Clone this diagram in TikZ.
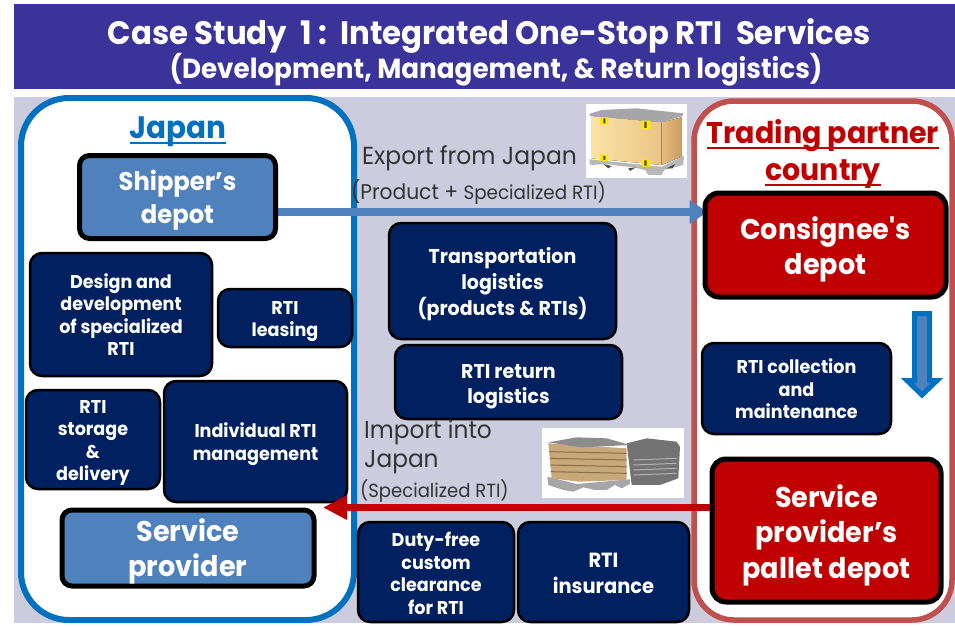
\documentclass[tikz,border=0pt]{standalone}
\usepackage{fontspec}
\setmainfont[FakeStretch=0.95,Ligatures=TeXOff]{Poppins}
\usetikzlibrary{arrows.meta}
\definecolor{banner}{HTML}{3A3399}
\definecolor{lav}{HTML}{CCCCDE}
\definecolor{navy}{HTML}{002060}
\definecolor{lblue}{HTML}{4F81BD}
\definecolor{dred}{HTML}{C00000}
\definecolor{jblue}{HTML}{0070C0}
\definecolor{tred}{HTML}{C0504D}
\definecolor{boxa}{HTML}{FDE2A6}
\definecolor{boxb}{HTML}{EAC488}
\definecolor{boxc}{HTML}{E8BC7C}
\definecolor{boxd}{HTML}{C99C60}
\definecolor{card}{HTML}{C8A878}
\definecolor{cardl}{HTML}{8A6E48}
\pgfdeclarelayer{bg}\pgfdeclarelayer{mid}
\pgfsetlayers{bg,mid,main}
\tikzset{x=1pt,y=-1pt,
 bx/.style={draw=black,line width=2.5pt,rounded corners=12pt,fill=navy,text=white,inner sep=0pt,font=\fontsize{18.5}{22.5}\selectfont\bfseries},
 sh/.style={draw=black,line width=5pt,rounded corners=10pt,fill=lblue,text=white,inner sep=0pt,font=\fontsize{25.5}{33}\selectfont\bfseries},
 rd/.style={draw=black,line width=5pt,rounded corners=14pt,fill=dred,text=white,inner sep=0pt,font=\fontsize{28.5}{35.5}\selectfont\bfseries},
 lbl/.style={text=black!80,anchor=west,inner sep=0pt,align=left},
 flow/.style={line width=7.5pt},
}
\newlength\ulw
\newcommand{\ulx}[1]{\settowidth\ulw{#1}\rlap{\rule[-5pt]{\ulw}{2pt}}#1}
% style, drop, x1, y1, x2, y2, name, text
\newcommand{\bxat}[8]{\node[#1,minimum width=#5pt-#3pt,minimum height=#6pt-#4pt] (#7) at ({(#3+#5)/2},{(#4+#6)/2}) {\raisebox{-#2pt}[\height][\depth]{\begin{tabular}{@{}c@{}}#8\end{tabular}}}}
\begin{document}
\begin{tikzpicture}
\useasboundingbox (0,0) rectangle (955,626);
\begin{pgfonlayer}{bg}
\fill[white] (0,0) rectangle (955,626);
\fill[banner] (14,4) rectangle (955,89);
\fill[lav] (14,97) rectangle (955,623);
\draw[draw=jblue,line width=6pt,fill=white,rounded corners=48pt] (21,98) rectangle (354,620);
\draw[draw=tred,line width=5.5pt,fill=white,rounded corners=40pt] (694,101) rectangle (952,620);
% images
\fill[white] (586,104) rectangle (687,178);
\fill[white] (542,428) rectangle (684,498);
\begin{scope}[shift={(560,90)},x=0.3333pt,y=-0.3333pt]
\fill[left color=boxa,right color=boxb] (95,78) -- (305,97) -- (305,225) -- (95,205) -- cycle;
\fill[left color=boxc,right color=boxd] (305,97) -- (365,82) -- (365,200) -- (305,225) -- cycle;
\fill[black!35] (88,72) -- (125,60) -- (230,55) -- (370,70) -- (368,78) -- (305,97) -- (90,78) -- cycle;
\fill[black!28] (88,208) -- (305,230) -- (372,198) -- (370,225) -- (312,240) -- (305,255) -- (265,255) -- (255,240) -- (220,232) -- (180,228) -- (140,222) -- (90,225) -- cycle;
\fill[black!70] (130,222) -- (155,228) -- (145,235) -- cycle (205,235) -- (228,232) -- (210,243) -- cycle (320,235) -- (345,222) -- (338,235) -- cycle;
\fill[yellow!90!orange] (120,82) rectangle (145,103) (245,92) rectangle (272,117) (120,195) rectangle (145,213) (245,208) rectangle (272,230);
\fill[black!70] (130,85) rectangle (136,100) (253,95) rectangle (260,114) (130,198) rectangle (136,210) (253,211) rectangle (260,227);
\end{scope}
\begin{scope}[shift={(520,410)},x=0.3333pt,y=-0.3333pt]
\fill[black!55] (320,100) -- (380,85) -- (470,95) -- (480,110) -- (475,205) -- (420,225) -- (335,225) -- cycle;
\draw[black!30,line width=1pt] (340,150) -- (470,145) (340,165) -- (470,160) (340,180) -- (470,175) (340,195) -- (470,190);
\fill[card] (85,100) -- (320,115) -- (320,210) -- (175,215) -- (95,205) -- cycle;
\draw[cardl,line width=1pt] (88,125) -- (320,130) (90,145) -- (320,150) (90,165) -- (320,170) (92,185) -- (320,190);
\fill[black!45] (85,97) -- (170,82) -- (260,85) -- (330,105) -- (185,112) -- cycle;
\fill[black!35] (82,200) -- (170,222) -- (330,208) -- (330,222) -- (305,235) -- (285,225) -- (260,240) -- (225,240) -- (190,232) -- (160,245) -- (130,240) -- (85,225) -- cycle;
\end{scope}
\end{pgfonlayer}
\node[text=white,font=\fontsize{32.4}{34}\selectfont\bfseries,inner sep=0pt] (title1) at (489,36) {Case Study\ \ 1 :\ \ Integrated One-Stop RTI\ \ Services};
\node[text=white,font=\fontsize{27.6}{30}\selectfont\bfseries,inner sep=0pt] (title2) at (496,70) {(Development, Management, \& Return logistics)};
\node[text=jblue,font=\fontsize{31}{34}\selectfont\bfseries,inner sep=0pt] (japan) at (178,132) {\ulx{Japan}};
\node[text=dred,font=\fontsize{30}{37}\selectfont\bfseries,inner sep=0pt,align=center] (partner) at (823,154) {\ulx{Trading partner}\\\ulx{country}};
% Boxes
\bxat{sh}{3.5}{79.5}{155.5}{275.5}{238.5}{shipper}{Shipper’s\\depot};
\bxat{bx}{3}{30}{253}{212}{376}{design}{Design and\\development\\of specialized\\RTI};
\bxat{bx}{3}{218}{289}{352}{347}{leasing}{RTI\\leasing};
\bxat{bx}{3}{26}{390}{160}{489}{storage}{RTI\\storage\\\&\\delivery};
\bxat{bx}{3}{164}{381}{347}{502}{indiv}{Individual RTI\\management};
\bxat{sh,font=\fontsize{28.5}{35}\selectfont\bfseries}{4}{62}{510}{314}{586}{provider}{Service\\provider};
\bxat{bx,font=\fontsize{20}{25.5}\selectfont\bfseries}{3.5}{389}{223}{616}{339}{transport}{Transportation\\logistics\\(products \& RTIs)};
\bxat{bx,font=\fontsize{20}{25}\selectfont\bfseries}{4}{395}{345}{622}{419}{ret}{RTI return\\logistics};
\bxat{bx}{4}{358}{522}{514}{622}{duty}{Duty-free\\custom\\clearance\\for RTI};
\bxat{bx,font=\fontsize{20.5}{26}\selectfont\bfseries}{3.5}{518}{522}{689}{622}{insur}{RTI\\insurance};
\bxat{rd}{5}{705}{193}{946}{297}{consignee}{Consignee's\\depot};
\bxat{bx}{3}{702}{343}{891}{434}{collect}{RTI collection\\and\\maintenance};
\bxat{rd}{5}{712}{459}{941}{602}{spdepot}{Service\\provider’s\\pallet depot};
% arrows
\coordinate (expS) at (277,212);
\coordinate (impE) at (711,507.5);
\coordinate (impT) at (323,507.5);
\coordinate (expT) at (707,212);
\begin{pgfonlayer}{mid}
\draw[lblue,flow,shorten >=-5pt,-{Triangle[length=18pt,width=23pt]}] (shipper.east |- expS) -- (consignee.west |- expT);
\end{pgfonlayer}
\draw[dred,flow,-{Triangle[length=24pt,width=23pt]}] (spdepot.west |- impE) -- (impT);
\draw[jblue,line width=5pt,fill=lblue,line join=miter] (914.5,313.5) -- (929.5,313.5) -- (929.5,380.5) -- (937,380.5) -- (922,395) -- (907,380.5) -- (914.5,380.5) -- cycle;
% labels
\node[lbl,font=\fontsize{24.7}{26}\selectfont] (exp) at (362,158) {Export from Japan};
\node[lbl,font=\fontsize{21.3}{24}\selectfont] (prod) at (351,192) {(Product + {\fontsize{19.3}{24}\selectfont Specialized RTI)}};
\node[lbl,font=\fontsize{24.5}{29}\selectfont] (imp) at (364,447) {Import into\\Japan};
\node[lbl,font=\fontsize{19}{24}\selectfont] (spec) at (360,491) {(Specialized RTI)};
\end{tikzpicture}
\end{document}
